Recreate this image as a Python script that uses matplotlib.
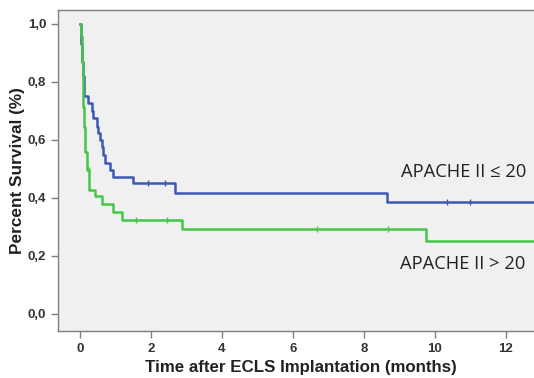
import numpy as np
import matplotlib.pyplot as plt

# Kaplan-Meier steps (time in months, survival fraction)
t_low = [0, 0.03, 0.06, 0.09, 0.12, 0.23, 0.33, 0.37, 0.47, 0.52, 0.56, 0.61, 0.66, 0.70, 0.85, 0.94, 1.49, 2.68, 8.64, 13.2]
s_low = [1.0, 0.93, 0.87, 0.82, 0.75, 0.727, 0.70, 0.675, 0.646, 0.623, 0.60, 0.577, 0.548, 0.52, 0.497, 0.473, 0.45, 0.418, 0.387, 0.387]
cens_low_t = [1.92, 2.39, 10.35, 11.0]
cens_low_s = [0.45, 0.45, 0.387, 0.387]

t_high = [0, 0.03, 0.05, 0.06, 0.08, 0.09, 0.12, 0.14, 0.19, 0.26, 0.42, 0.61, 0.94, 1.17, 2.86, 9.76, 13.2]
s_high = [1.0, 0.96, 0.92, 0.87, 0.80, 0.715, 0.646, 0.56, 0.497, 0.428, 0.405, 0.379, 0.353, 0.324, 0.293, 0.252, 0.252]
cens_high_t = [0.24, 1.58, 2.44, 6.67, 8.69]
cens_high_s = [0.497, 0.324, 0.324, 0.293, 0.293]

x_ticks = [0, 2, 4, 6, 8, 10, 12]
y_ticks = [0.0, 0.2, 0.4, 0.6, 0.8, 1.0]
y_labels = ["0,0", "0,2", "0,4", "0,6", "0,8", "1,0"]

blue = "#3d58b4"
green = "#45c64a"
grey = "#7f7f7f"

fig = plt.figure(figsize=(5.34, 3.78), dpi=100)
ax = fig.add_axes([0.1086, 0.1243, 0.91, 0.8492])
ax.set_facecolor("#f0f0f0")

ax.step(t_low, s_low, where="post", color=blue, lw=1.8)
ax.plot(cens_low_t, cens_low_s, ls="none", marker="|", ms=5, mew=1.0, color=blue)
ax.step(t_high, s_high, where="post", color=green, lw=1.8)
ax.plot(cens_high_t, cens_high_s, ls="none", marker="|", ms=5, mew=1.0, color=green)

ax.set_xlim(-0.62, 13.07)
ax.set_ylim(-0.059, 1.048)
ax.set_xticks(x_ticks)
ax.set_yticks(y_ticks)
ax.set_yticklabels(y_labels)

for sp in ax.spines.values():
    sp.set_color(grey)
    sp.set_linewidth(1.0)
ax.tick_params(direction="out", length=5, width=1.0, color=grey, labelsize=9.5, labelcolor="#333333")
for lab in ax.get_xticklabels() + ax.get_yticklabels():
    lab.set_fontweight("bold")
    lab.set_family("Liberation Sans")

ax.set_xlabel("Time after ECLS Implantation (months)", fontsize=12.2, fontweight="bold",
              family="Liberation Sans", color="#222222", labelpad=4)
ax.set_ylabel("Percent Survival (%)", fontsize=12.4, fontweight="bold",
              family="Liberation Sans", color="#222222", labelpad=2)

ax.text(10.82, 0.49, "APACHE II \u2264 20", fontsize=13.2, family=["Open Sans", "DejaVu Sans"],
        color="#222222", ha="center", va="center")
ax.text(10.79, 0.172, "APACHE II > 20", fontsize=13.2, family=["Open Sans", "DejaVu Sans"],
        color="#222222", ha="center", va="center")

fig.savefig("out.png", dpi=100)
